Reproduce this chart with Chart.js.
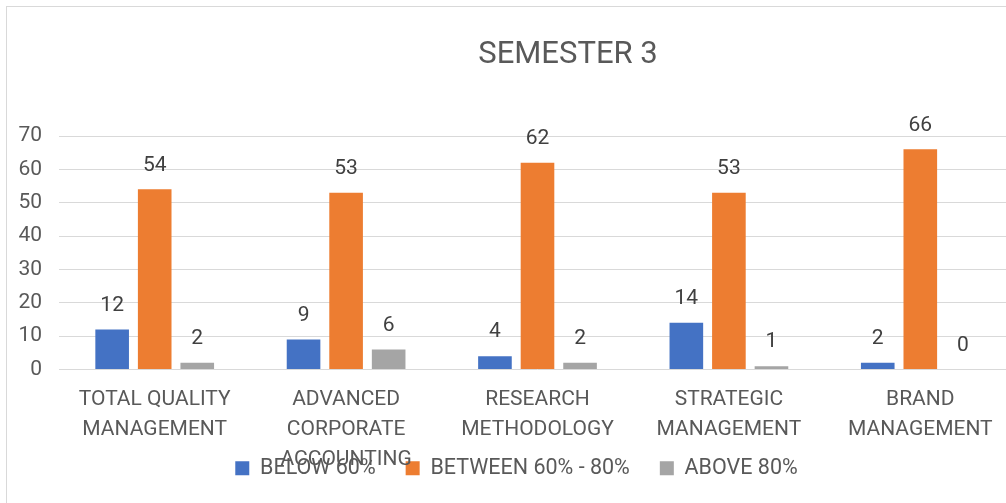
<!DOCTYPE html>
<html>
<head>
<meta charset="utf-8">
<script src="https://cdn.jsdelivr.net/npm/chart.js@4.4.0/dist/chart.umd.min.js"></script>
<style>
  html, body { margin: 0; padding: 0; background: #fff; overflow: hidden; }
  #frame { position: absolute; left: 6px; top: 6px; width: 1040px; height: 540px;
           border-left: 1px solid #d9d9d9; border-top: 1px solid #d9d9d9; }
  #wrap { position: absolute; left: 0; top: 0; width: 1020px; height: 529px; }
</style>
</head>
<body>
<div id="frame"><div id="wrap"><canvas id="chart"></canvas></div></div>
<script>
// chart values
const chartTitle = "SEMESTER 3";
const subjects = [
  ["TOTAL QUALITY", "MANAGEMENT"],
  ["ADVANCED", "CORPORATE", "ACCOUNTING"],
  ["RESEARCH", "METHODOLOGY"],
  ["STRATEGIC", "MANAGEMENT"],
  ["BRAND", "MANAGEMENT"]
];
const below60 = [12, 9, 4, 14, 2];
const between60and80 = [54, 53, 62, 53, 66];
const above80 = [2, 6, 2, 1, 0];
const yTicks = [0, 10, 20, 30, 40, 50, 60, 70];

const FONT = "Roboto";
const TEXT = "#595959";

// title drawn a little right of centre, like the original
const titlePlugin = {
  id: "semTitle",
  afterDraw(chart) {
    const ctx = chart.ctx;
    ctx.save();
    ctx.font = "31px " + FONT;
    ctx.fillStyle = TEXT;
    ctx.textAlign = "center";
    ctx.textBaseline = "middle";
    ctx.fillText(chartTitle, 561, 48);
    ctx.restore();
  }
};

// the legend sits over the last line of the long category label in the original
const legendOverlap = {
  id: "legendOverlap",
  afterLayout(chart) {
    const lg = chart.legend;
    if (!lg) return;
    lg.top -= 47;
    lg.bottom -= 47;
    lg.left += 5;
    lg.right += 5;
  }
};

// numbers above each bar
const valueLabels = {
  id: "valueLabels",
  afterDatasetsDraw(chart) {
    const ctx = chart.ctx;
    ctx.save();
    ctx.font = "21px " + FONT;
    ctx.fillStyle = "#404040";
    ctx.textAlign = "center";
    ctx.textBaseline = "middle";
    chart.data.datasets.forEach((ds, i) => {
      chart.getDatasetMeta(i).data.forEach((bar, j) => {
        ctx.fillText(String(ds.data[j]), bar.x, bar.y - 24);
      });
    });
    ctx.restore();
  }
};

const barOpts = { categoryPercentage: 0.667, barPercentage: 0.79 };

new Chart(document.getElementById("chart"), {
  type: "bar",
  data: {
    labels: subjects,
    datasets: [
      Object.assign({ label: "BELOW 60%", data: below60, backgroundColor: "#4472C4" }, barOpts),
      Object.assign({ label: "BETWEEN 60% - 80%", data: between60and80, backgroundColor: "#ED7D31" }, barOpts),
      Object.assign({ label: "ABOVE 80%", data: above80, backgroundColor: "#A5A5A5" }, barOpts)
    ]
  },
  options: {
    responsive: true,
    maintainAspectRatio: false,
    animation: false,
    layout: { padding: { top: 129, right: 11, bottom: 0, left: 0 } },
    plugins: {
      title: { display: false },
      tooltip: { enabled: false },
      legend: {
        position: "bottom",
        labels: {
          boxWidth: 14, boxHeight: 14, padding: 30,
          color: TEXT, font: { family: FONT, size: 21.5 }
        }
      }
    },
    scales: {
      x: {
        grid: { display: false, drawTicks: false },
        border: { display: false },
        ticks: {
          color: TEXT, padding: 15,
          font: { family: FONT, size: 21, lineHeight: 30 / 21 },
          maxRotation: 0, autoSkip: false
        },
        afterFit(scale) { scale.height = 105; }
      },
      y: {
        min: 0, max: 70,
        afterBuildTicks(scale) { scale.ticks = yTicks.map(v => ({ value: v })); },
        grid: { color: "#d9d9d9", drawTicks: false },
        border: { display: false },
        ticks: { color: TEXT, padding: 17, font: { family: FONT, size: 21 } },
        afterFit(scale) { scale.width = 52; }
      }
    }
  },
  plugins: [titlePlugin, legendOverlap, valueLabels]
});
</script>
</body>
</html>
